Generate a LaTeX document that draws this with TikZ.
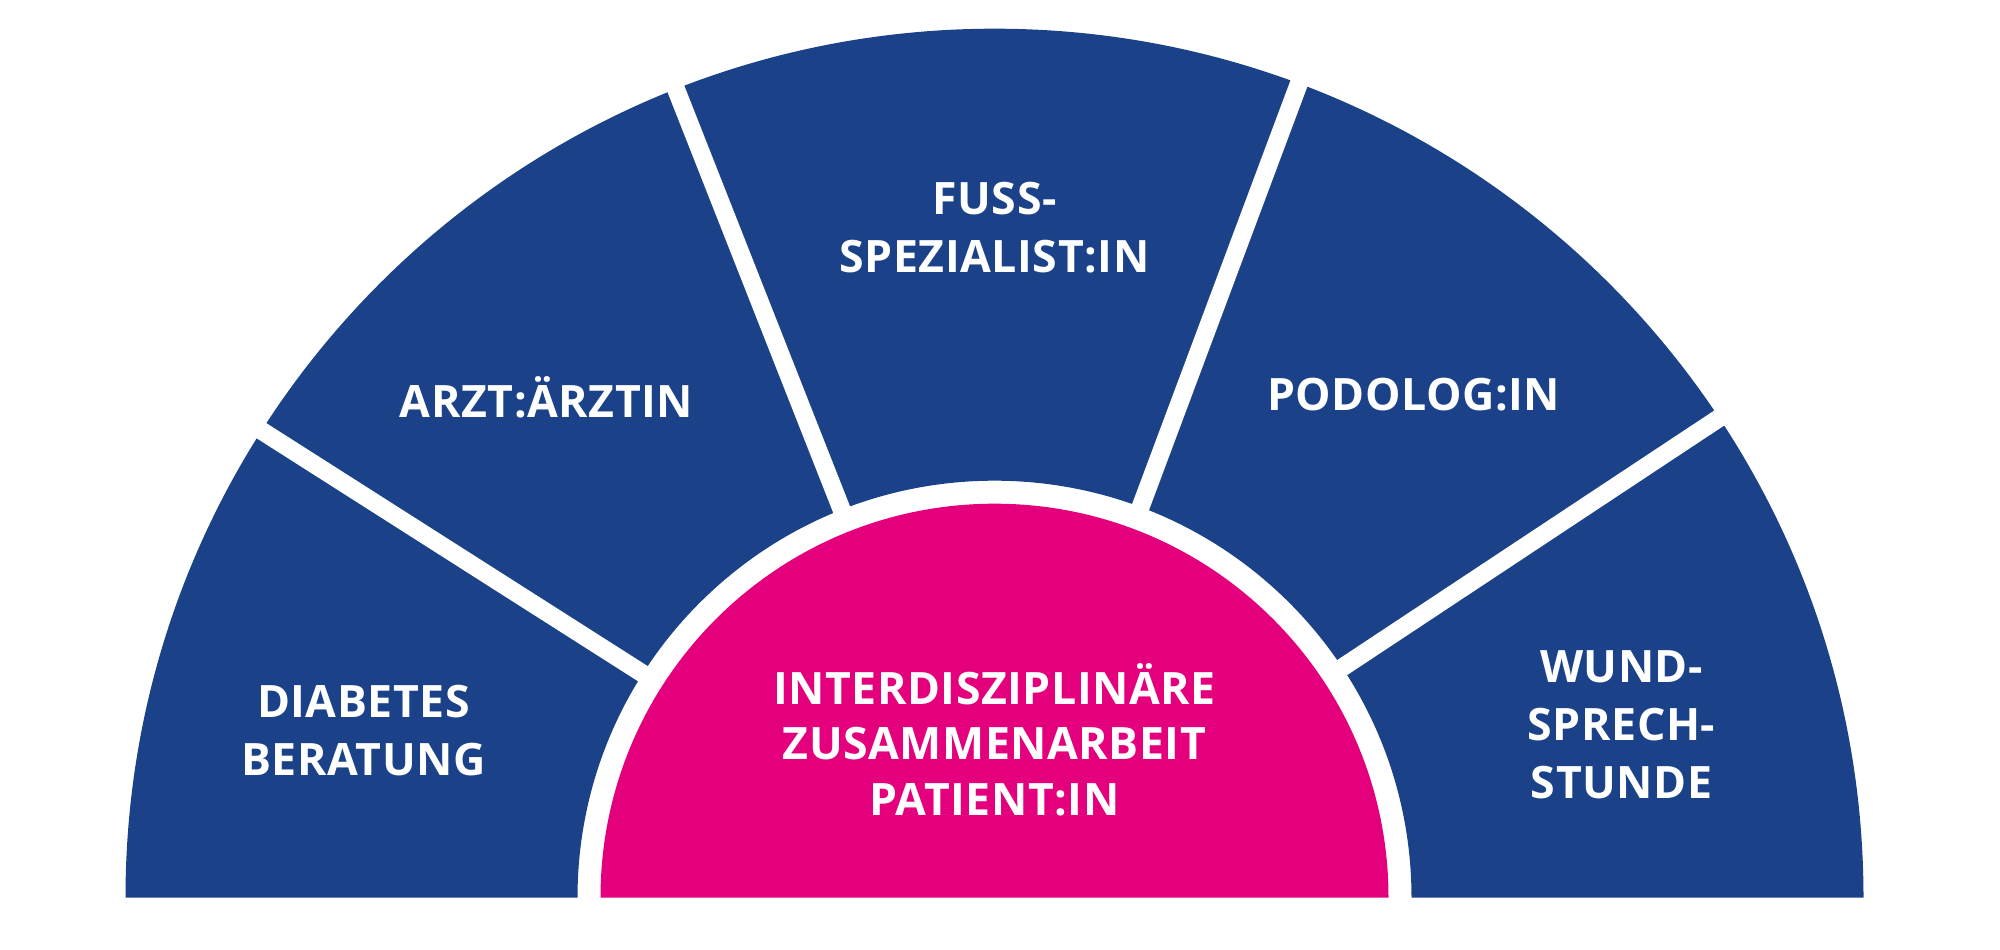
\documentclass[tikz,border=0pt]{standalone}
\usepackage{fontspec}
\setmainfont{Open Sans}[LetterSpace=1.2]
\usetikzlibrary{calc}
\definecolor{SegmentBlue}{RGB}{27,66,137}
\definecolor{CorePink}{RGB}{228,0,124}
\colorlet{FilledSegment}{SegmentBlue}
\colorlet{FilledCore}{CorePink}

\begin{document}
\begin{tikzpicture}[
    SegmentLabel/.style={text=white, align=center, inner sep=0pt,
        font=\bfseries\fontsize{12.7}{16.5}\selectfont},
    Divider/.style={white, line width=0.18cm}
]
    \useasboundingbox (0, 0) rectangle (20, 9.5);

    % Centro comun de los arcos.
    \coordinate (O) at (9.945, 0.523);

    \coordinate (OuterRight) at ($(O) + (0:8.69)$);
    \coordinate (InnerLeft) at ($(O) + (180:4.17)$);
    \coordinate (CoreRight) at ($(O) + (0:3.94)$);

    % Corona azul, cortada luego por las separaciones blancas.
    \fill[FilledSegment] (OuterRight)
    arc [start angle = 0, end angle = 180, radius = 8.69]
    -- (InnerLeft)
    arc [start angle = 180, end angle = 0, radius = 4.17]
    -- cycle;

    \foreach \angle in {33.5, 69.5, 111.5, 147.5}
        \draw[Divider] ($(O) + (\angle:4.0)$) -- ($(O) + (\angle:8.9)$);

    \fill[FilledCore] (CoreRight)
    arc [start angle = 0, end angle = 180, radius = 3.94]
    -- cycle;

    \node[SegmentLabel] (diabetes) at ($(O) + (-6.31, 1.67)$) {DIABETES\\BERATUNG};
    \node[SegmentLabel] (arzt) at ($(O) + (-4.48, 5.00)$) {ARZT:ÄRZTIN};
    \node[SegmentLabel] (fuss) at ($(O) + (0, 6.70)$) {FUSS-\\SPEZIALIST:IN};
    \node[SegmentLabel] (podolog) at ($(O) + (4.19, 5.03)$) {PODOLOG:IN};
    \node[SegmentLabel] (wund) at ($(O) + (6.27, 1.73)$) {WUND-\\SPRECH-\\STUNDE};
    \node[SegmentLabel, font=\bfseries\fontsize{12.7}{15.8}\selectfont] (patient)
        at ($(O) + (0, 1.58)$) {INTERDISZIPLINÄRE\\ZUSAMMENARBEIT\\PATIENT:IN};
\end{tikzpicture}
\end{document}
